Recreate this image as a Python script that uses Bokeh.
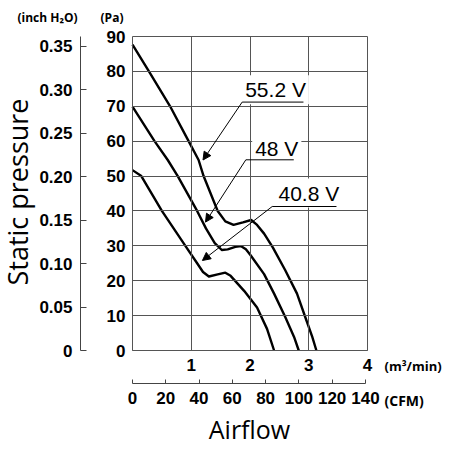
import numpy as np
from bokeh.plotting import figure
from bokeh.models import (Range1d, LinearAxis, FixedTicker, Label, Arrow,
                          NormalHead, CustomJSTickFormatter)
from bokeh.embed import file_html
from bokeh.resources import INLINE

# ---------------- data (airflow in m3/min, static pressure in Pa) -------------
q_552 = [0.00, 0.28, 0.64, 0.955, 1.125, 1.21, 1.45, 1.58, 1.72, 1.88, 2.02, 2.12,
         2.24, 2.39, 2.60, 2.80, 2.94, 3.06, 3.13]
p_552 = [87.7, 80.0, 70.0, 60.0, 54.6, 50.0, 40.0, 37.0, 36.0, 36.7, 37.4, 36.0,
         33.5, 29.5, 23.0, 16.3, 9.6, 3.9, 0.0]

q_48 = [0.00, 0.375, 0.60, 0.77, 1.10, 1.25, 1.40, 1.52, 1.62, 1.75, 1.85, 1.93,
        2.01, 2.24, 2.41, 2.60, 2.75, 2.83]
p_48 = [69.9, 60.0, 54.6, 50.0, 40.0, 35.0, 30.8, 28.8, 29.0, 29.7, 29.9, 29.0,
        27.3, 21.9, 16.3, 9.6, 3.9, 0.0]

q_408 = [0.00, 0.15, 0.50, 0.90, 1.10, 1.20, 1.30, 1.45, 1.58, 1.67, 1.90, 2.12,
         2.29, 2.41]
p_408 = [51.7, 50.0, 40.0, 30.0, 25.0, 22.5, 21.2, 21.8, 22.3, 21.4, 17.1, 12.3,
         6.2, 0.0]

series_names = ["55.2 V", "48 V", "40.8 V"]

pa_ticks = [0, 10, 20, 30, 40, 50, 60, 70, 80, 90]
inch_ticks = [0, 0.05, 0.10, 0.15, 0.20, 0.25, 0.30, 0.35]
m3_ticks = [1, 2, 3, 4]
cfm_ticks = [0, 20, 40, 60, 80, 100, 120, 140]

PA_PER_INH2O = 249.09
CFM_PER_M3MIN = 35.3147
Q_MAX, P_MAX = 4.0, 90.0

# annotation placement (label left x, label centre y, underline, arrow tip)
label_pos = [
    dict(tx=1.867, ty=74.75, ux0=1.867, uy=71.2, ux1=2.91, ax=1.20, ay=54.6),
    dict(tx=2.037, ty=57.8, ux0=1.929, uy=54.66, ux1=2.745, ax=1.243, ay=36.8),
    dict(tx=2.434, ty=45.14, ux0=2.378, uy=41.27, ux1=3.472, ax=1.19, ay=25.8),
]

TICK_FONT = "Liberation Sans"
TITLE_FONT = "Open Sans"
GRID = "#555555"

W, H = 451, 450
PLOT_L, PLOT_R, PLOT_T, PLOT_B = 132, 367, 36, 350   # plot box on the canvas
sx = (PLOT_R - PLOT_L) / Q_MAX
sy = (PLOT_B - PLOT_T) / P_MAX
x0, x1 = -PLOT_L / sx, (W - PLOT_L) / sx
y0, y1 = -(H - PLOT_B) / sy, (PLOT_B) / sy

p = figure(width=W, height=H, x_range=Range1d(x0, x1), y_range=Range1d(y0, y1),
           output_backend="svg", toolbar_location=None,
           x_axis_location=None, y_axis_location=None,
           min_border=0, min_border_left=0, min_border_right=0,
           min_border_top=0, min_border_bottom=0)
p.background_fill_color = "white"
p.border_fill_color = "white"
p.outline_line_color = None
p.xgrid.visible = False
p.ygrid.visible = False

p.extra_y_ranges = {"inch": Range1d(y0 / PA_PER_INH2O, y1 / PA_PER_INH2O)}
p.extra_x_ranges = {"cfm": Range1d(x0 * CFM_PER_M3MIN, x1 * CFM_PER_M3MIN)}

def style_axis(ax, size="17px"):
    ax.major_label_text_font = TICK_FONT
    ax.major_label_text_font_size = size
    ax.major_label_text_font_style = "bold"
    ax.major_label_text_color = "black"
    ax.minor_tick_line_color = None

# Pa axis (its long inward ticks form the horizontal grid lines)
pa_axis = LinearAxis(ticker=FixedTicker(ticks=pa_ticks), bounds=(0, P_MAX),
                     axis_line_color=GRID, major_tick_line_color=GRID,
                     major_tick_in=int(round(PLOT_R - PLOT_L)), major_tick_out=0,
                     major_label_standoff=7, fixed_location=0)
style_axis(pa_axis)
p.add_layout(pa_axis, "left")

# m3/min axis (its long inward ticks form the vertical grid lines)
m3_axis = LinearAxis(ticker=FixedTicker(ticks=m3_ticks), bounds=(0, Q_MAX),
                     axis_line_color=GRID, major_tick_line_color=GRID,
                     major_tick_in=int(round(PLOT_B - PLOT_T)), major_tick_out=0,
                     major_label_standoff=8, fixed_location=0)
style_axis(m3_axis)
p.add_layout(m3_axis, "below")

# inch H2O axis
inch_axis = LinearAxis(y_range_name="inch", ticker=FixedTicker(ticks=inch_ticks),
                       bounds=(0, P_MAX / PA_PER_INH2O),
                       formatter=CustomJSTickFormatter(code="return tick == 0 ? '0' : tick.toFixed(2);"),
                       axis_line_color="#444444", major_tick_line_color="#444444",
                       major_tick_in=6, major_tick_out=0, major_label_standoff=8,
                       fixed_location=(80 - PLOT_L) / sx)
style_axis(inch_axis)
p.add_layout(inch_axis, "left")

# CFM axis
cfm_axis = LinearAxis(x_range_name="cfm", ticker=FixedTicker(ticks=cfm_ticks),
                      bounds=(0, 140), axis_line_color="#444444",
                      major_tick_line_color="#444444", major_tick_in=4,
                      major_tick_out=0, major_label_standoff=8,
                      fixed_location=-(383.3 - PLOT_B) / sy)
style_axis(cfm_axis)
p.add_layout(cfm_axis, "below")

# curves
for qs, ps in [(q_552, p_552), (q_48, p_48), (q_408, p_408)]:
    p.line(qs, ps, line_width=2.4, line_color="black", line_join="round")

# curve labels
for name, lp in zip(series_names, label_pos):
    p.add_layout(Label(x=lp["tx"], y=lp["ty"], text=name, text_font=TICK_FONT,
                       text_font_size="21px", text_align="left",
                       text_baseline="middle", text_color="black",
                       background_fill_color="white", padding=3))
for lp in label_pos:
    p.add_layout(Arrow(x_start=lp["ux0"], y_start=lp["uy"], x_end=lp["ux1"],
                       y_end=lp["uy"], end=None, line_width=1, line_color="black"))
    p.add_layout(Arrow(x_start=lp["ux0"], y_start=lp["uy"], x_end=lp["ax"],
                       y_end=lp["ay"], line_width=1, line_color="black",
                       end=NormalHead(size=8, line_color="black", fill_color="black",
                                      line_width=1)))

# unit / axis titles
def px2x(px):
    return (px - PLOT_L) / sx

def py2y(py):
    return (PLOT_B - py) / sy

def lab(x, y, text, size, font=TITLE_FONT, style="normal", align="left",
        baseline="middle", angle=0.0):
    p.add_layout(Label(x=x, y=y, text=text, text_font=font, text_font_size=size,
                       text_font_style=style, text_align=align,
                       text_baseline=baseline, angle=angle, text_color="black"))

lab(px2x(47), py2y(17), "(inch H\u2082O)", "12px", style="bold", align="center")
lab(px2x(111.5), py2y(17), "(Pa)", "12px", style="bold", align="center")
lab(px2x(384), py2y(365.5), "(m\u00b3/min)", "13px", style="bold")
lab(px2x(384), py2y(400), "(CFM)", "14px", style="bold")
lab(px2x(249), py2y(428), "Airflow", "25px", align="center")
lab(px2x(17), py2y(191.5), "Static pressure", "27px", align="center",
    angle=np.pi / 2)

open("out.html", "w").write(file_html(p, INLINE))
